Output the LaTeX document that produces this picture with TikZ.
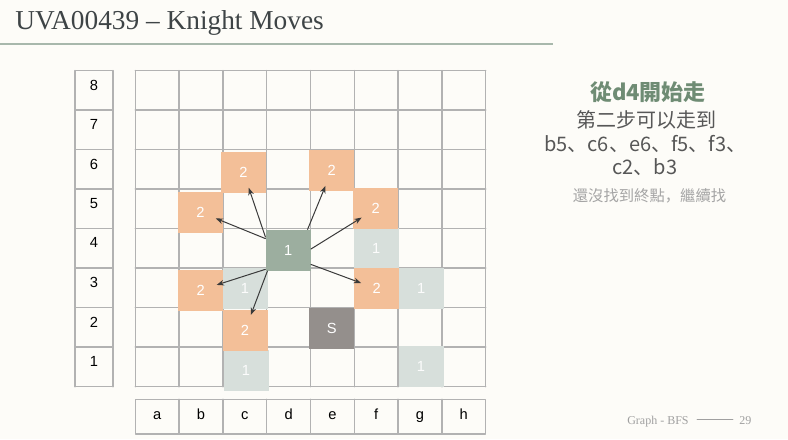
\documentclass[tikz,border=0pt]{standalone}
\usepackage{fontspec}
\setmainfont{Liberation Serif}
\setsansfont{Liberation Sans}
\newfontfamily\cjk{Noto Sans CJK SC}
\usetikzlibrary{arrows.meta,calc}

\definecolor{paper}{HTML}{FDFCF8}
\definecolor{gridgray}{HTML}{B2B2B2}
\definecolor{titlegray}{HTML}{3E4446}
\definecolor{rulegreen}{HTML}{A8B8AC}
\definecolor{stepfill}{HTML}{F3BF98}
\definecolor{startfill}{HTML}{9CAE9F}
\definecolor{seenfill}{HTML}{D7DFDB}
\definecolor{goalfill}{HTML}{948F8C}
\definecolor{arrowgray}{HTML}{3A3A3A}
\definecolor{headgreen}{HTML}{6F8C74}
\definecolor{notegray}{HTML}{575757}
\definecolor{hintgray}{HTML}{A5A5A5}
\definecolor{footgray}{HTML}{A0A0A0}

\begin{document}
\begin{tikzpicture}[
  x=0.75pt,y=-0.75pt,
  line cap=round,line join=round,
  gridline/.style={draw=gridgray,line width=1.1pt},
  lbl/.style={font=\sffamily\fontsize{11}{13}\selectfont,text=black,inner sep=0pt},
  sq/.style={minimum width=33.75pt,minimum height=30.75pt,inner sep=0pt,
    font=\sffamily\fontsize{11}{13}\selectfont,text=white},
  next/.style={sq,fill=stepfill},
  start/.style={sq,fill=startfill},
  seen/.style={sq,fill=seenfill,text=white!92!seenfill},
  goal/.style={sq,fill=goalfill},
  move/.style={draw=arrowgray,line width=0.75pt,
    -{Stealth[length=5.5pt,width=4.2pt]},shorten >=12.5pt},
  note/.style={font=\cjk\fontsize{15}{18}\selectfont,text=notegray,
    text height=0.88em,text depth=0.12em,inner sep=0pt}
]
  % Page
  \fill[paper] (0,0) rectangle (788,439);
  \useasboundingbox (0,0) rectangle (788,439);

  % Title
  \node[anchor=base west,font=\fontsize{20.5}{24}\selectfont,text=titlegray,inner sep=0pt]
    (title) at (15,29) {UVA00439 – Knight Moves};
  \draw[rulegreen,line width=1.5pt,line cap=butt] (0,43.7) -- (552.7,43.7);

  % Board
  \def\gx{135.3}
  \def\gy{70.7}
  \def\cw{43.8}
  \def\ch{39.5}
  \foreach \i in {0,...,8}{
    \draw[gridline] ({\gx+\i*\cw},\gy) -- ({\gx+\i*\cw},{\gy+8*\ch});
    \draw[gridline] (\gx,{\gy+\i*\ch}) -- ({\gx+8*\cw},{\gy+\i*\ch});
    \draw[gridline] (75,{\gy+\i*\ch}) -- (113,{\gy+\i*\ch});
  }
  \draw[gridline] (75,\gy) -- (75,{\gy+8*\ch});
  \draw[gridline] (113,\gy) -- (113,{\gy+8*\ch});
  \draw[gridline] (\gx,399.3) rectangle ({\gx+8*\cw},434);
  \foreach \i in {1,...,7}
    \draw[gridline] ({\gx+\i*\cw},399.3) -- ({\gx+\i*\cw},434);

  % Rank and file labels
  \foreach \r in {1,...,8}
    \node[lbl] (r\r) at (94,{\gy+(8.5-\r)*\ch-5.5}) {\r};
  \foreach \f [count=\i] in {a,b,c,d,e,f,g,h}
    \node[lbl,anchor=base] (f\f) at ({\gx+(\i-0.5)*\cw},419.5) {\f};

  % Squares
  \foreach \nm/\cx/\cy/\kind/\txt in {
      f4/376.2/248.3/seen/1, g3/421.3/288.3/seen/1, c3/245/288/seen/1,
      c1/246/370.5/seen/1, g1/421/366.7/seen/1,
      c6/243.4/172/next/2, e6/331.8/170.5/next/2, b5/200.35/212.15/next/2,
      f5/375.8/208.8/next/2, b3/200.8/290/next/2, f3/376.7/288.8/next/2,
      c2/245/330.5/next/2,
      d4/288.2/250.2/start/1, e2/331.7/328.3/goal/S}
    \node[\kind] (\nm) at (\cx,\cy) {\txt};

  % Knight moves from d4
  \foreach \to/\ang in {c6/150,b5/153,e6/47,f5/3,f3/-32,b3/220,c2/225}
    \draw[move] (d4.\ang) -- (\to.center);

  % Notes
  \node[note,font=\cjk\bfseries\fontsize{16.5}{20}\selectfont,text=headgreen]
    (head) at (648,95) {從d4開始走};
  \node[note] (line1) at (646,122.5) {第二步可以走到};
  \node[note,anchor=west] (line2) at (544,146) {b5、c6、e6、f5、f3、};
  \node[note] (line3) at (645,169) {c2、b3};
  \node[note,font=\cjk\fontsize{11.5}{14}\selectfont,text=hintgray]
    (hint) at (649.5,196.7) {還沒找到終點，繼續找};

  % Footer
  \node[anchor=base west,font=\fontsize{9}{11}\selectfont,text=footgray,inner sep=0pt]
    (foot) at (627,424) {Graph - BFS};
  \node[anchor=base west,font=\fontsize{9}{11}\selectfont,text=footgray,inner sep=0pt]
    (page) at (739,424) {29};
  \draw[footgray,line width=0.6pt] (697,419.3) -- (733,419.3);
\end{tikzpicture}
\end{document}
